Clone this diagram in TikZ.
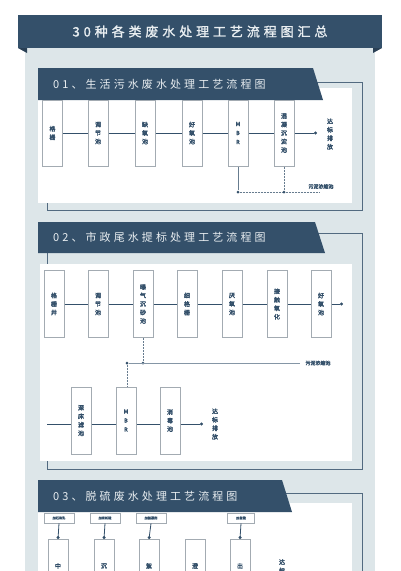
\documentclass[tikz,border=0pt]{standalone}
\usepackage{fontspec}
\setmainfont{Noto Sans CJK SC}
\newfontfamily\ttlfont[LetterSpace=30,FakeBold=1.5]{Noto Sans CJK SC}
\newfontfamily\hdfont[LetterSpace=28]{Noto Sans CJK SC}
\newfontfamily\boxfont[FakeBold=3]{Noto Sans CJK SC}
\usetikzlibrary{arrows.meta}
\definecolor{dk}{HTML}{34506A}
\definecolor{bg}{HTML}{DDE6E9}
\definecolor{bx}{HTML}{A3ABB2}
\definecolor{tl}{HTML}{E9EEF1}
\tikzset{
  procbox/.style={draw=bx, line width=1pt, fill=white, minimum width=20pt, inner sep=0pt,
    font=\boxfont\fontsize{6}{8.5}\selectfont, text=dk, align=center},
  outlbl/.style={font=\boxfont\fontsize{6}{8.5}\selectfont, text=dk, align=center, inner sep=0pt},
  slbl/.style={font=\boxfont\fontsize{5}{6}\selectfont, text=dk, inner sep=0pt},
  tagbox/.style={draw=bx, line width=0.8pt, fill=white, minimum width=30pt, minimum height=10pt,
    inner sep=0pt, font=\boxfont\fontsize{3.2}{4}\selectfont, text=dk},
  link/.style={draw=dk, line width=0.8pt},
  sludge/.style={draw=dk!75, line width=0.7pt, dash pattern=on 2pt off 1pt},
  dotend/.style={-{Circle[length=3pt]}},
  dotc/.style={circle, fill=dk, inner sep=0pt, minimum size=3pt},
  bantext/.style={text=tl, font=\hdfont\fontsize{11}{12}\selectfont, anchor=west, inner sep=0pt},
  framel/.style={draw=dk!85, line width=0.8pt},
}
\begin{document}
\begin{tikzpicture}[x=1pt,y=-1pt]
\clip (0,0) rectangle (400,571);
\fill[white] (0,0) rectangle (400,571);
% grey panel
\fill[bg] (25,48) rectangle (375,571);
% title banner
\fill[dk] (18,15) rectangle (382,48);
\fill[dk!80!black] (18,48) -- (27,48) -- (27,53) -- cycle;
\fill[dk!80!black] (382,48) -- (373,48) -- (373,53) -- cycle;
\node[text=tl, font=\ttlfont\fontsize{13}{14}\selectfont, inner sep=0pt] (title) at (200,31.5) {30种各类废水处理工艺流程图汇总};

% ---------------- Section 1 ----------------
\draw[framel] (300,82) -- (362,82) -- (362,210) -- (47,210) -- (47,95);
\fill[white] (38,88) rectangle (352,203);
\fill[dk] (38,68) -- (313,68) -- (323,100) -- (38,100) -- cycle;
\node[bantext] (h1) at (53,84) {01、生活污水废水处理工艺流程图};

\node[procbox, minimum height=66pt] (a1) at (52.5,133) {格\\栅};
\node[procbox, minimum height=66pt] (a2) at (98,133) {调\\节\\池};
\node[procbox, minimum height=66pt] (a3) at (145,133) {缺\\氧\\池};
\node[procbox, minimum height=66pt] (a4) at (192,133) {好\\氧\\池};
\node[procbox, minimum height=66pt, font=\boxfont\fontsize{5.5}{9}\selectfont] (a5) at (238,133) {M\\B\\R};
\node[procbox, minimum height=66pt] (a6) at (284,133) {混\\凝\\沉\\淀\\池};
\coordinate (a7) at (317,133);
\node[outlbl] (a8) at (330,134) {达\\标\\排\\放};
\draw[link] (a1) -- (a2);
\draw[link] (a2) -- (a3);
\draw[link] (a3) -- (a4);
\draw[link] (a4) -- (a5);
\draw[link] (a5) -- (a6);
\draw[link, dotend] (a6) -- (a7);
\node[dotc] (s1) at (238,192) {};
\node[dotc] (s2) at (284,192) {};
\coordinate (s3) at (320,192);
\node[slbl] (s4) at (321,186.5) {污泥浓缩池};
\draw[draw=dk!75, line width=0.7pt] (a5.south) -- (s1);
\draw[sludge] (a6.south) -- (s2);
\draw[sludge] (s1) -- (s2) -- (s3);

% ---------------- Section 2 ----------------
\draw[framel] (318,233) -- (362,233) -- (362,469) -- (47,469) -- (47,252);
\fill[white] (40,264) rectangle (352,461);
\fill[dk] (38,222) -- (315,222) -- (325,253) -- (38,253) -- cycle;
\node[bantext] (h2) at (53,237.5) {02、市政尾水提标处理工艺流程图};

\node[procbox, minimum height=67pt] (b1) at (54,304) {格\\栅\\井};
\node[procbox, minimum height=67pt] (b2) at (98,304) {调\\节\\池};
\node[procbox, minimum height=67pt] (b3) at (143,304) {曝\\气\\沉\\砂\\池};
\node[procbox, minimum height=67pt] (b4) at (187,304) {细\\格\\栅};
\node[procbox, minimum height=67pt] (b5) at (232,304) {厌\\氧\\池};
\node[procbox, minimum height=67pt] (b6) at (277,304) {接\\触\\氧\\化};
\node[procbox, minimum height=67pt] (b7) at (321,304) {好\\氧\\池};
\coordinate (b8) at (343,304);
\draw[link] (b1) -- (b2);
\draw[link] (b2) -- (b3);
\draw[link] (b3) -- (b4);
\draw[link] (b4) -- (b5);
\draw[link] (b5) -- (b6);
\draw[link] (b6) -- (b7);
\draw[link, dotend] (b7) -- (b8);

\node[procbox, minimum height=67pt] (c1) at (81,420.5) {深\\床\\滤\\池};
\node[procbox, minimum height=67pt, font=\boxfont\fontsize{5.5}{9}\selectfont] (c2) at (126,420.5) {M\\B\\R};
\node[procbox, minimum height=67pt] (c3) at (170,420.5) {消\\毒\\池};
\coordinate (c0) at (47,424);
\coordinate (c4) at (203,424);
\node[outlbl] (c5) at (215,424) {达\\标\\排\\放};
\draw[link] (c0) -- (c1.west |- c0);
\draw[link] (c1.east |- c0) -- (c2.west |- c0);
\draw[link] (c2.east |- c0) -- (c3.west |- c0);
\draw[link, dotend] (c3.east |- c0) -- (c4);

\node[dotc] (t1) at (143,363) {};
\node[dotc] (t2) at (127,363) {};
\coordinate (t3) at (300,363);
\node[slbl] (t4) at (318,363) {污泥浓缩池};
\draw[sludge] (b3.south) -- (t1);
\draw[draw=dk!60, line width=0.7pt] (t2) -- (t3);
\draw[sludge] (t2) -- (t2 |- c2.north);

% ---------------- Section 3 ----------------
\draw[framel] (285,493) -- (362,493) -- (362,575);
\fill[white] (38,503) rectangle (352,575);
\fill[dk] (38,480) -- (282,480) -- (292,512) -- (38,512) -- cycle;
\node[bantext] (h3) at (53,496) {03、脱硫废水处理工艺流程图};

\node[tagbox] (g1) at (59,518) {加石灰乳};
\node[tagbox] (g2) at (105,518) {加有机硫};
\node[tagbox] (g3) at (151,518) {加絮凝剂};
\node[tagbox, minimum width=27pt] (g4) at (241,518) {加盐酸};

\node[procbox, minimum height=80pt, anchor=north] (d1) at (58,539) {};
\node[procbox, minimum height=80pt, anchor=north] (d2) at (104,539) {};
\node[procbox, minimum height=80pt, anchor=north] (d3) at (149,539) {};
\node[procbox, minimum height=80pt, anchor=north] (d4) at (195,539) {};
\node[procbox, minimum height=80pt, anchor=north] (d5) at (240,539) {};
\node[outlbl, anchor=north] (e1) at (58,563) {中\\和\\箱};
\node[outlbl, anchor=north] (e2) at (104,563) {沉\\降\\箱};
\node[outlbl, anchor=north] (e3) at (149,563) {絮\\凝\\箱};
\node[outlbl, anchor=north] (e4) at (195,563) {澄\\清\\池};
\node[outlbl, anchor=north] (e5) at (240,563) {出\\水\\箱};
\node[outlbl, anchor=north] (d6) at (282,559) {达\\标\\排\\放};
\draw[link, -{Circle[length=3pt]}] (g1.south) -- (d1.north);
\draw[link, -{Circle[length=3pt]}] (g2.south) -- (d2.north);
\draw[link, -{Circle[length=3pt]}] (g3.south) -- (d3.north);
\draw[link, -{Circle[length=3pt]}] (g4.south) -- (d5.north);
\end{tikzpicture}
\end{document}
